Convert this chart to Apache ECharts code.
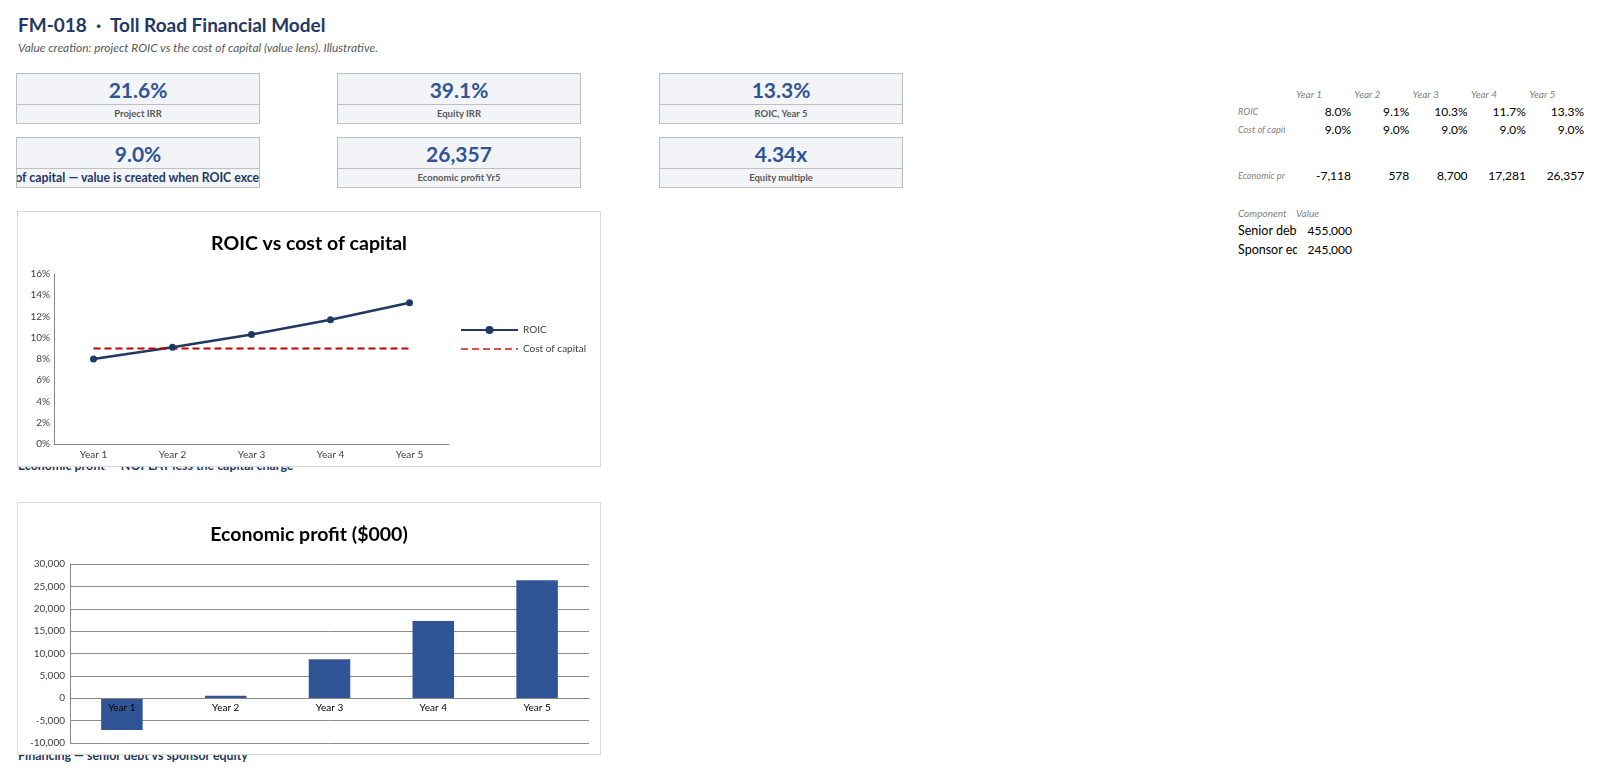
<!DOCTYPE html>
<html>
<head>
<meta charset="utf-8">
<title>FM-018 Toll Road Financial Model</title>
<script src="https://cdn.jsdelivr.net/npm/echarts@6/dist/echarts.min.js"></script>
<style>
  body { margin:0; width:1600px; height:778px; background:#fff; font-family:Lato, "Open Sans", sans-serif; position:relative; overflow:hidden; }
  .abs { position:absolute; white-space:nowrap; }
  .title { left:18px; top:13px; font-size:19px; font-weight:bold; color:#1F3864; }
  .sub { left:18px; top:40px; font-size:11.9px; font-style:italic; color:#595959; }
  .card { position:absolute; width:242px; border:1px solid #BFBFBF; background:#F3F4F8; overflow:hidden; }
  .card .v { height:30px; line-height:31px; text-align:center; font-size:21px; font-weight:bold; color:#2F5597; border-bottom:1px solid #BFBFBF; }
  .card .l { height:18px; line-height:18px; text-align:center; font-size:9.5px; font-weight:bold; color:#595959; white-space:nowrap; }
  .card .l.wide { font-size:12.3px; color:#1F3864; margin-left:-100px; margin-right:-100px; }
  .box { position:absolute; left:17px; width:582px; border:1px solid #D9D9D9; background:#fff; z-index:2; }
  .sec { left:18px; font-size:12.4px; font-weight:bold; color:#1F3864; z-index:1; }
  .hd { font-size:10px; font-style:italic; color:#7F7F7F; }
  .lb { font-size:9.2px; font-style:italic; color:#7F7F7F; overflow:hidden; }
  .num { font-size:12px; color:#000; text-align:right; width:58px; }
</style>
</head>
<body>
<div class="abs title">FM-018 &nbsp;·&nbsp; Toll Road Financial Model</div>
<div class="abs sub">Value creation: project ROIC vs the cost of capital (value lens). Illustrative.</div>

<div id="cards"></div>

<div class="abs sec" style="top:458px;">Economic profit — NOPLAT less the capital charge</div>
<div class="box" id="roicChart" style="top:211px;height:254px;"></div>

<div class="abs sec" style="top:748px;">Financing — senior debt vs sponsor equity</div>
<div class="box" id="epChart" style="top:502px;height:251px;"></div>

<div id="table"></div>

<script>
// 数据
let years = ['Year 1', 'Year 2', 'Year 3', 'Year 4', 'Year 5'];
let roic = [8.0, 9.1, 10.3, 11.7, 13.3];
let costOfCapital = [9.0, 9.0, 9.0, 9.0, 9.0];
let economicProfit = [-7118, 578, 8700, 17281, 26357];
let components = ['Senior debt', 'Sponsor equity'];
let componentValues = [455000, 245000];
let kpiValues = ['21.6%', '39.1%', '13.3%', '9.0%', '26,357', '4.34x'];
let kpiLabels = ['Project IRR', 'Equity IRR', 'ROIC, Year 5',
                 'Cost of capital — value is created when ROIC exceeds it', 'Economic profit Yr5', 'Equity multiple'];

function fmt(n) { return n.toLocaleString('en-US'); }

// KPI 卡片
let cardLeft = [16, 337, 659];
let cardTop = [73, 137];
let cards = '';
for (let i = 0; i < kpiValues.length; i++) {
    let wide = i === 3 ? ' wide' : '';
    cards += `<div class="card" style="left:${cardLeft[i % 3]}px;top:${cardTop[Math.floor(i / 3)]}px;">
                <div class="v">${kpiValues[i]}</div>
                <div class="l${wide}">${kpiLabels[i]}</div>
              </div>`;
}
document.getElementById('cards').innerHTML = cards;

// 右侧表格
let colX = 1296, colW = 58.3;
let t = '';
years.forEach(function (y, i) {
    t += `<div class="abs hd" style="left:${colX + i * colW}px;top:88px;">${y}</div>`;
});
let rows = [
    { label: 'ROIC', top: 104, vals: roic.map(v => v.toFixed(1) + '%') },
    { label: 'Cost of capital', top: 122, vals: costOfCapital.map(v => v.toFixed(1) + '%') },
    { label: 'Economic profit', top: 168, vals: economicProfit.map(fmt) }
];
rows.forEach(function (r) {
    t += `<div class="abs lb" style="left:1238px;top:${r.top + 2}px;width:47px;">${r.label}</div>`;
    r.vals.forEach(function (v, i) {
        t += `<div class="abs num" style="left:${colX + i * colW - 3}px;top:${r.top}px;">${v}</div>`;
    });
});
t += `<div class="abs hd" style="left:1238px;top:207px;">Component</div>`;
t += `<div class="abs hd" style="left:1296px;top:207px;">Value</div>`;
components.forEach(function (c, i) {
    let top = 223 + i * 19;
    t += `<div class="abs" style="left:1238px;top:${top}px;width:59px;overflow:hidden;font-size:12.5px;color:#000;">${c}</div>`;
    t += `<div class="abs num" style="left:1294px;top:${top}px;">${fmt(componentValues[i])}</div>`;
});
document.getElementById('table').innerHTML = t;

// ROIC 图
let roicChart = echarts.init(document.getElementById('roicChart'));
roicChart.setOption({
    animation: false,
    textStyle: { fontFamily: 'Lato' },
    title: {
        text: 'ROIC vs cost of capital', left: 'center', top: 17,
        textStyle: { fontSize: 19.5, fontWeight: 'bold', color: '#000' }
    },
    grid: { left: 36, top: 62, width: 395, height: 170, outerBoundsMode: 'none' },
    legend: {
        orient: 'vertical', left: 437, top: 108, itemWidth: 57, itemHeight: 10, itemGap: 9,
        textStyle: { fontSize: 10, color: '#404040' },
        data: [
            { name: 'ROIC' },
            { name: 'Cost of capital', itemStyle: { opacity: 0 }, lineStyle: { color: '#E05050' } }
        ]
    },
    xAxis: {
        type: 'category', data: years,
        axisLine: { lineStyle: { color: '#868686' } },
        axisTick: { show: false },
        axisLabel: { fontSize: 10, color: '#404040', margin: 6 }
    },
    yAxis: {
        type: 'value', min: 0, max: 16, interval: 2,
        axisLine: { show: true, lineStyle: { color: '#868686' } },
        splitLine: { show: false },
        axisLabel: { formatter: '{value}%', fontSize: 10, color: '#404040', margin: 4 }
    },
    series: [
        {
            name: 'ROIC', type: 'line', data: roic, symbol: 'circle', symbolSize: 7,
            lineStyle: { width: 2.5, color: '#1F3864' }, itemStyle: { color: '#1F3864' }
        },
        {
            name: 'Cost of capital', type: 'line', data: costOfCapital, symbol: 'none',
            lineStyle: { width: 2, type: [7, 4], color: '#C00000' }, itemStyle: { color: '#C00000' }
        }
    ]
});

// 经济利润图
let epMin = -10000, epMax = 30000, epGridH = 179;
let epChart = echarts.init(document.getElementById('epChart'));
epChart.setOption({
    animation: false,
    textStyle: { fontFamily: 'Lato' },
    title: {
        text: 'Economic profit ($000)', left: 'center', top: 17,
        textStyle: { fontSize: 19.5, fontWeight: 'bold', color: '#000' }
    },
    grid: { left: 52, top: 61, width: 519, height: epGridH, outerBoundsMode: 'none' },
    xAxis: {
        type: 'category', data: years, z: 10,
        // 横轴放在 0 的位置
        offset: -epGridH * (0 - epMin) / (epMax - epMin),
        axisLine: { onZero: false, lineStyle: { color: '#868686' } },
        axisTick: { show: false },
        axisLabel: { fontSize: 10, color: '#000', margin: 5 }
    },
    yAxis: {
        type: 'value', min: epMin, max: epMax, interval: 5000,
        axisLine: { show: true, lineStyle: { color: '#868686' } },
        splitLine: { lineStyle: { color: '#8C8C8C' } },
        axisLabel: { formatter: fmt, fontSize: 10, color: '#404040', margin: 5 }
    },
    series: [{
        type: 'bar', data: economicProfit, barWidth: '40%',
        itemStyle: { color: '#2F5597' }
    }]
});
</script>
</body>
</html>
